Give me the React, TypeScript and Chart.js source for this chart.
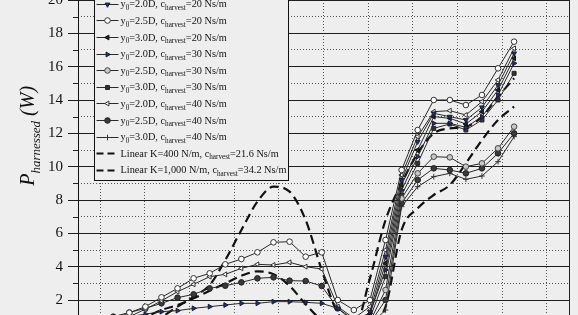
import React, { useEffect, useRef } from "react";
import { Chart, registerables } from "chart.js";
import { drawPoint } from "chart.js/helpers";

Chart.register(...registerables);

const BG = "#eeeeee";
const FONT = '"Liberation Serif", "DejaVu Serif", serif';

// x positions of the measurement points (k = -2 .. 24)
const xValues = [
  -0.07, 0.29, 0.65, 1.01, 1.37, 1.73, 2.09, 2.45, 2.8, 3.16, 3.52, 3.88, 4.24,
  4.6, 4.96, 5.32, 5.68, 6.04, 6.39, 6.75, 7.11, 7.47, 7.83, 8.19, 8.55, 8.91, 9.27,
];

const xGridValues = [0, 1, 2, 3, 4, 5, 6, 7, 8, 9, 10];
const yGridValues = [2, 3, 4, 5, 6, 7, 8, 9, 10, 11, 12, 13, 14, 15, 16, 17, 18, 19, 20];
const yTickLabels = [2, 4, 6, 8, 10, 12, 14, 16, 18, 20];

// y0=2.0D, c=20
const s1 = [0.2, 0.3, 0.4, 0.5, 0.6, 0.65, 0.7, 0.75, 0.8, 0.85, 0.9, 0.95, 0.95, 0.9, 0.85, 0.7,
  0.5, 1.3, 4.6, 9.2, 11.5, 13.2, 13.0, 12.8, 13.56, 14.9, 16.8];
// y0=2.5D, c=20
const s2 = [0.5, 0.85, 1.24, 1.6, 2.16, 2.7, 3.3, 3.6, 4.14, 4.46, 4.86, 5.46, 5.5, 4.6, 4.86, 2.0,
  1.4, 2.0, 5.6, 9.8, 12.2, 14.0, 14.0, 13.7, 14.3, 15.9, 17.5];
// y0=3.0D, c=20
const s3 = [0.15, 0.25, 0.35, 0.4, 0.45, 0.5, 0.55, 0.6, 0.65, 0.7, 0.72, 0.75, 0.75, 0.7, 0.65, 0.55,
  0.45, 1.1, 4.2, 8.9, 11.0, 13.0, 12.9, 12.56, 13.3, 14.6, 16.5];
// y0=2.0D, c=30
const s4 = [0.4, 0.7, 1.0, 1.15, 1.3, 1.36, 1.5, 1.6, 1.7, 1.8, 1.8, 1.9, 1.9, 1.86, 1.8, 1.5,
  0.8, 1.2, 3.8, 8.6, 10.6, 12.6, 12.6, 12.36, 13.0, 14.3, 16.2];
// y0=2.5D, c=30
const s5 = [0.1, 0.15, 0.2, 0.25, 0.3, 0.35, 0.4, 0.45, 0.5, 0.52, 0.55, 0.56, 0.55, 0.52, 0.48, 0.4,
  0.35, 0.7, 2.6, 8.1, 9.6, 10.6, 10.56, 10.0, 10.2, 11.1, 12.4];
// y0=3.0D, c=30
const s6 = [0.1, 0.2, 0.3, 0.35, 0.4, 0.45, 0.5, 0.55, 0.6, 0.62, 0.65, 0.66, 0.65, 0.62, 0.58, 0.5,
  0.4, 0.9, 3.4, 8.3, 10.2, 12.3, 12.56, 12.2, 12.8, 14.0, 15.6];
// y0=2.0D, c=40
const s7 = [0.3, 0.65, 1.0, 1.45, 1.95, 2.5, 2.94, 3.4, 3.54, 3.9, 4.14, 4.1, 4.26, 4.0, 3.86, 1.6,
  0.9, 1.6, 5.0, 9.5, 11.8, 13.3, 13.36, 13.1, 13.9, 15.2, 17.1];
// y0=2.5D, c=40
const s8 = [0.6, 1.0, 1.25, 1.5, 1.8, 2.14, 2.34, 2.7, 2.86, 3.06, 3.3, 3.36, 3.16, 3.14, 2.84, 1.5,
  0.7, 0.6, 2.0, 7.8, 9.2, 9.9, 9.8, 9.6, 9.9, 10.8, 12.0];
// y0=3.0D, c=40
const s9 = [0.05, 0.1, 0.15, 0.2, 0.25, 0.3, 0.33, 0.36, 0.4, 0.42, 0.44, 0.45, 0.44, 0.42, 0.4, 0.35,
  0.3, 0.5, 1.4, 7.6, 8.8, 9.4, 9.6, 9.24, 9.44, 10.3, 11.8];
// Linear K=400
const lin400 = [0.3, 0.4, 0.55, 0.75, 1.0, 1.6, 2.2, 2.9, 4.4, 6.2, 7.9, 8.8, 8.5, 6.8, 3.8, 1.2,
  0.4, 0.5, 1.6, 6.2, 7.5, 8.3, 8.9, 10.2, 11.6, 12.8, 13.6];
// Linear K=1000
const lin1000 = [0.3, 0.5, 0.75, 1.0, 1.4, 1.7, 2.1, 2.55, 3.0, 3.45, 3.72, 3.55, 2.85, 1.75, 0.8, 0.4,
  0.3, 3.3, 6.8, 9.0, 10.8, 12.0, 12.3, 12.4, 13.0, 14.2, 15.3];

const seriesLabels = [
  "y_0=2.0D, c_harvest=20 Ns/m",
  "y_0=2.5D, c_harvest=20 Ns/m",
  "y_0=3.0D, c_harvest=20 Ns/m",
  "y_0=2.0D, c_harvest=30 Ns/m",
  "y_0=2.5D, c_harvest=30 Ns/m",
  "y_0=3.0D, c_harvest=30 Ns/m",
  "y_0=2.0D, c_harvest=40 Ns/m",
  "y_0=2.5D, c_harvest=40 Ns/m",
  "y_0=3.0D, c_harvest=40 Ns/m",
  "Linear K=400 N/m, c_harvest=21.6 Ns/m",
  "Linear K=1,000 N/m, c_harvest=34.2 Ns/m",
];
const seriesValues = [s1, s2, s3, s4, s5, s6, s7, s8, s9, lin400, lin1000];

const NAVY = "#28306a";
const LINE = "#2a2a2a";
const styles: any[] = [
  { pointStyle: "triangle", rot: 180, fill: NAVY, border: "#1a1a3a" },
  { pointStyle: "circle", rot: 0, fill: "#ffffff", border: "#333" },
  { pointStyle: "triangle", rot: 270, fill: "#222", border: "#111" },
  { pointStyle: "triangle", rot: 90, fill: NAVY, border: "#1a1a3a" },
  { pointStyle: "circle", rot: 0, fill: "#c8c8c8", border: "#444" },
  { pointStyle: "rect", rot: 0, fill: "#333", border: "#222" },
  { pointStyle: "triangle", rot: 270, fill: "#ffffff", border: "#333" },
  { pointStyle: "circle", rot: 0, fill: "#3a3a3a", border: "#222" },
  { pointStyle: "cross", rot: 0, fill: "#333", border: "#333" },
  { dashed: true },
  { dashed: true },
];

function drawRich(ctx: CanvasRenderingContext2D, text: string, x: number, y: number,
  size: number, subSize: number, subDy: number, style: string) {
  const parts = text.split(/_([A-Za-z0-9]+)/);
  let cx = x;
  parts.forEach((p, i) => {
    const sub = i % 2 === 1;
    ctx.font = `${style} ${sub ? subSize : size}px ${FONT}`;
    ctx.fillText(p, cx, y + (sub ? subDy : 0));
    cx += ctx.measureText(p).width;
  });
}

const decorPlugin = {
  id: "decor",
  beforeDraw(chart: any) {
    const { ctx, width, height } = chart;
    ctx.save();
    ctx.fillStyle = BG;
    ctx.fillRect(0, 0, width, height);
    ctx.restore();
  },
  afterDraw(chart: any) {
    const { ctx, chartArea } = chart;
    const ys = chart.scales.y;
    ctx.save();
    // minor ticks
    ctx.strokeStyle = "#222";
    ctx.lineWidth = 1;
    for (let v = 3; v <= 19; v += 2) {
      const py = Math.round(ys.getPixelForValue(v)) + 0.5;
      ctx.beginPath();
      ctx.moveTo(chartArea.left - 5, py);
      ctx.lineTo(chartArea.left, py);
      ctx.stroke();
    }
    // right frame
    ctx.beginPath();
    ctx.moveTo(Math.round(chartArea.right) + 0.5, chartArea.top);
    ctx.lineTo(Math.round(chartArea.right) + 0.5, chartArea.bottom);
    ctx.stroke();

    // y-axis title
    ctx.save();
    ctx.fillStyle = "#111";
    ctx.textBaseline = "alphabetic";
    ctx.translate(34, ys.getPixelForValue(8.85));
    ctx.rotate(-Math.PI / 2);
    drawRich(ctx, "P_harnessed (W)", 0, 0, 20, 13, 6, "italic");
    ctx.restore();

    // legend box
    const bx = Math.round(chartArea.left) + 16.5;
    const bw = 194;
    const by = -20.5;
    const bb = 180.5;
    ctx.fillStyle = BG;
    ctx.fillRect(bx, by, bw, bb - by);
    ctx.strokeStyle = "#111";
    ctx.lineWidth = 1;
    ctx.strokeRect(bx, by, bw, bb - by);
    chart.data.datasets.forEach((ds: any, i: number) => {
      const ry = 3.8 + i * 16.6;
      const st = styles[i];
      ctx.save();
      ctx.strokeStyle = st.dashed ? "#111" : LINE;
      ctx.lineWidth = st.dashed ? 2.2 : 1;
      ctx.setLineDash(st.dashed ? [7, 4] : []);
      ctx.beginPath();
      ctx.moveTo(bx + 2, Math.round(ry) + 0.5);
      ctx.lineTo(bx + 24, Math.round(ry) + 0.5);
      ctx.stroke();
      ctx.restore();
      if (!st.dashed) {
        ctx.save();
        ctx.fillStyle = st.fill;
        ctx.strokeStyle = st.border;
        ctx.lineWidth = 1;
        drawPoint(ctx, { pointStyle: st.pointStyle, rotation: st.rot, radius: 2.8, borderWidth: 1 } as any,
          bx + 13, Math.round(ry) + 0.5);
        ctx.restore();
      }
      ctx.fillStyle = "#111";
      ctx.textBaseline = "alphabetic";
      drawRich(ctx, ds.label, bx + 26, ry + 3.6, 10.3, 7.2, 2.5, "normal");
    });
    ctx.restore();
  },
};

export default function App() {
  const ref = useRef<HTMLCanvasElement | null>(null);
  useEffect(() => {
    if (!ref.current) return;
    const datasets = seriesValues.map((vals, i) => {
      const st = styles[i];
      const data = vals.map((v, j) => ({ x: xValues[j], y: v }));
      if (st.dashed) {
        return {
          label: seriesLabels[i],
          data,
          borderColor: "#111",
          borderWidth: 2.2,
          borderDash: [9, 5],
          pointRadius: 0,
          cubicInterpolationMode: "monotone",
          fill: false,
        };
      }
      return {
        label: seriesLabels[i],
        data,
        borderColor: LINE,
        borderWidth: 1,
        pointStyle: st.pointStyle,
        pointRotation: st.rot,
        pointRadius: 2.8,
        pointBorderWidth: 1,
        pointBackgroundColor: st.fill,
        pointBorderColor: st.border,
        tension: 0,
        fill: false,
      };
    });
    const isEven = (v: number) => Number.isInteger(v) && v % 2 === 0;
    const isOdd = (v: number) => Number.isInteger(v) && Math.abs(v % 2) === 1;
    const noPad = (s: any) => { s.paddingTop = 0; s.paddingBottom = 0; s.paddingLeft = 0; s.paddingRight = 0; };
    const setTicks = (vals: number[]) => (s: any) => { s.ticks = vals.map((v) => ({ value: v })); };
    const chart = new Chart(ref.current, {
      type: "line",
      data: { datasets: datasets as any },
      plugins: [decorPlugin],
      options: {
        animation: false,
        responsive: false,
        layout: { padding: 0, autoPadding: false },
        plugins: { legend: { display: false }, tooltip: { enabled: false } },
        scales: {
          x: {
            type: "linear",
            min: -0.5,
            max: 10.5,
            ticks: { display: false },
            afterBuildTicks: setTicks(xGridValues),
            grid: {
              drawTicks: false,
              color: "#555",
              lineWidth: 1,
            },
            border: { display: false, dash: [1, 2] },
            afterFit: (s: any) => { s.height = 0; noPad(s); },
          } as any,
          y: {
            type: "linear",
            position: "left",
            min: 1.1,
            max: 20,
            afterBuildTicks: setTicks(yGridValues),
            ticks: {
              autoSkip: false,
              padding: 5,
              color: "#111",
              font: { family: FONT, size: 15 },
              callback: (v: any) => (yTickLabels.includes(Number(v)) ? String(v) : ""),
            },
            grid: {
              tickLength: 10,
              color: (c: any) => (isEven(c.tick?.value) ? "#1e1e1e" : "rgba(0,0,0,0)"),
              tickColor: (c: any) => (isEven(c.tick?.value) ? "#1e1e1e" : "rgba(0,0,0,0)"),
              lineWidth: 1,
            },
            border: { display: true, color: "#111", width: 1 },
            afterFit: (s: any) => { s.width = 78; noPad(s); },
          } as any,
          y2: {
            type: "linear",
            position: "right",
            min: 1.1,
            max: 20,
            afterBuildTicks: setTicks(yGridValues),
            ticks: { display: false, autoSkip: false },
            grid: {
              drawTicks: false,
              color: (c: any) => (isOdd(c.tick?.value) ? "#555" : "rgba(0,0,0,0)"),
              lineWidth: 1,
            },
            border: { display: false, dash: [1, 2] },
            afterFit: (s: any) => { s.width = 9; noPad(s); },
          } as any,
        },
      },
    });
    return () => chart.destroy();
  }, []);
  return (
    <div style={{ position: "fixed", left: 0, top: 0, width: 578, height: 315, background: BG }}>
      <canvas ref={ref} width={578} height={315} style={{ display: "block" }} />
    </div>
  );
}
